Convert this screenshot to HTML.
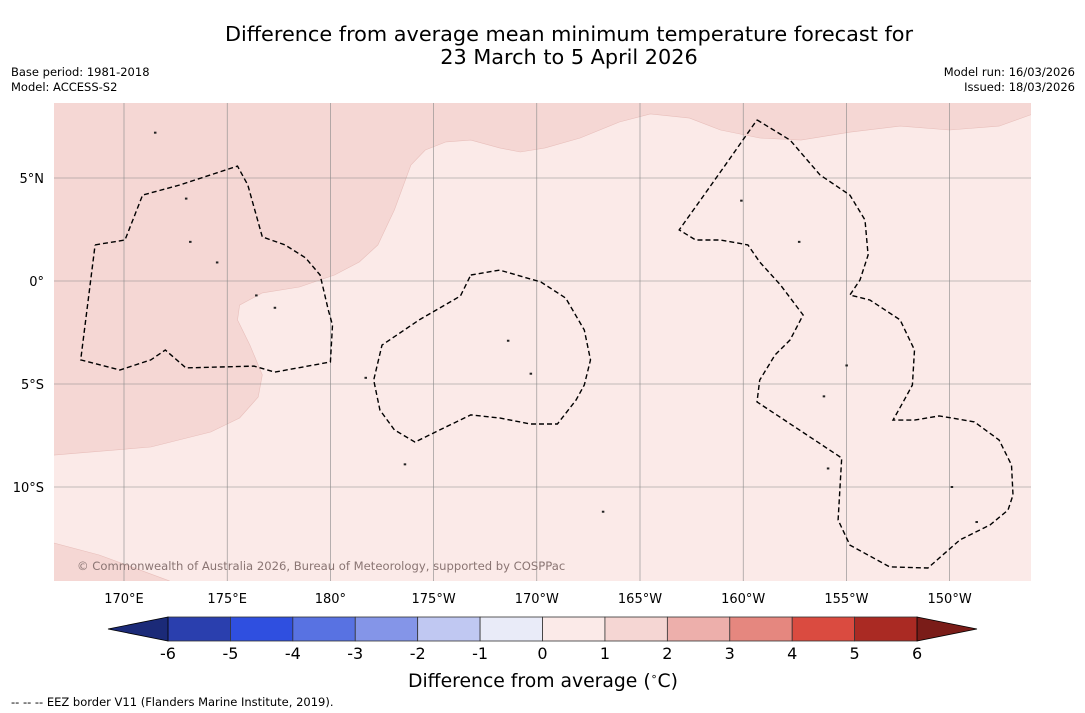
<!DOCTYPE html>
<html><head><meta charset="utf-8"><style>
body{margin:0;background:#fff;width:1085px;height:713px;overflow:hidden;font-family:"DejaVu Sans","Liberation Sans",sans-serif}
svg{position:absolute;left:0;top:0}
</style></head><body>
<svg id="chart" width="1085" height="713">
<text x="569" y="41" font-size="20.8" text-anchor="middle">Difference from average mean minimum temperature forecast for</text>
<text x="569" y="64" font-size="20.8" text-anchor="middle">23 March to 5 April 2026</text>
<text x="11" y="76" font-size="11.5">Base period: 1981-2018</text>
<text x="11" y="91" font-size="11.5">Model: ACCESS-S2</text>
<text x="1075" y="76" font-size="11.5" text-anchor="end">Model run: 16/03/2026</text>
<text x="1075" y="91" font-size="11.5" text-anchor="end">Issued: 18/03/2026</text>
<defs><clipPath id="mapclip"><rect x="54" y="103" width="977" height="478"/></clipPath></defs>
<rect x="54" y="103" width="977" height="478" fill="#fbeae8"/>
<g id="fills" clip-path="url(#mapclip)"></g>
<g id="grid" clip-path="url(#mapclip)"></g>
<g id="eez" clip-path="url(#mapclip)"></g>
<text x="77" y="570" font-size="11.6" fill="#8a7573">© Commonwealth of Australia 2026, Bureau of Meteorology, supported by COSPPac</text>
<g id="axes"></g>
<g id="colorbar"></g>
<text x="543" y="687" font-size="18.8" text-anchor="middle">Difference from average (<tspan font-size="11" dy="-7">∘</tspan><tspan dy="7">C)</tspan></text>
<text x="11" y="706" font-size="11.5">--  --  -- EEZ border V11 (Flanders Marine Institute, 2019).</text>
</svg>
<script>
const lonTicks=[170,175,180,185,190,195,200,205,210];
const lonLabels=["170°E","175°E","180°","175°W","170°W","165°W","160°W","155°W","150°W"];
const latTicks=[5,0,-5,-10];
const latLabels=["5°N","0°","5°S","10°S"];
const cbLevels=[-6,-5,-4,-3,-2,-1,0,1,2,3,4,5,6];
const cbColors=["#2a3fae","#2f4fe0","#5872e2","#8495e8","#c0c8f2","#e9ebf8","#fbeae8","#f5d6d3","#edafab","#e5877f","#da4b40","#aa2a23"];
const cbLow="#1b2a78",cbHigh="#7a1c18";
const warmLon=[166,166.6,171.3,174.2,175.6,176.5,176.7,176.1,175.5,175.6,176.7,178.5,180.2,181.4,182.3,183.1,183.9,184.6,185.6,186.8,188.2,189.2,190.4,192.1,194.0,195.5,197.4,198.9,200.8,202.8,205.2,207.6,210.0,212.4,213.9,214.5,214.5,166];
const warmLat=[-8.45,-8.45,-8.06,-7.33,-6.65,-5.63,-4.56,-3.11,-1.89,-1.17,-0.58,-0.29,0.29,0.92,1.75,3.45,5.63,6.36,6.75,6.84,6.46,6.26,6.46,6.94,7.72,8.11,7.91,7.33,6.94,6.84,7.23,7.52,7.33,7.52,8.06,8.3,9,9];
const warm2Lon=[166,166.6,168.8,172.2,172.5,166];
const warm2Lat=[-12.72,-12.72,-13.3,-14.56,-15,-15];
const eez1Lon=[168.6,170.05,170.9,172.7,175.5,176.0,176.7,177.8,178.8,179.5,179.9,180.1,180.0,177.3,176.3,173.0,172.0,171.3,169.8,167.9,168.6];
const eez1Lat=[1.75,1.99,4.17,4.66,5.58,4.66,2.14,1.75,1.12,0.29,-1.41,-2.14,-3.93,-4.42,-4.13,-4.22,-3.35,-3.83,-4.32,-3.83,1.75];
const eez2Lon=[186.8,188.2,190.2,191.4,192.3,192.6,192.3,191.9,191.0,189.7,188.2,186.8,185.3,184.1,183.1,182.4,182.1,182.5,184.3,186.3,186.8];
const eez2Lat=[0.29,0.53,-0.05,-0.83,-2.38,-3.83,-5.05,-5.78,-6.94,-6.94,-6.65,-6.50,-7.23,-7.82,-7.23,-6.26,-4.81,-3.11,-1.89,-0.73,0.29];
const eez3Lon=[200.67,202.27,203.72,205.17,205.9,206.05,205.66,205.17,206.14,207.6,208.3,208.2,207.8,207.26,208.3,209.5,211.2,212.4,213.0,213.07,212.83,211.96,210.5,208.95,207.1,205.17,204.6,204.77,200.67,200.8,201.54,202.27,202.9,201.8,200.8,200.23,198.9,197.7,196.9,198.1,199.3,200.67];
const eez3Lat=[7.82,6.84,5.15,4.17,2.96,1.26,0.05,-0.68,-0.92,-1.89,-3.35,-5.05,-5.78,-6.75,-6.75,-6.55,-6.84,-7.72,-8.93,-10.39,-11.12,-11.84,-12.57,-13.93,-13.88,-12.82,-11.6,-8.59,-5.87,-4.81,-3.59,-2.86,-1.65,-0.19,0.92,1.75,1.99,1.99,2.48,4.17,5.87,7.82];
const islandLon=[171.5,173.0,173.2,174.5,176.4,177.3,181.7,183.6,188.6,189.7,193.2,199.9,202.7,203.9,204.1,205.0,210.1,211.3];
const islandLat=[7.2,4.0,1.9,0.9,-0.7,-1.3,-4.7,-8.9,-2.9,-4.5,-11.2,3.9,1.9,-5.6,-9.1,-4.1,-10.0,-11.7];

const NS="http://www.w3.org/2000/svg";
const xS=lon=>124+(lon-170)*20.64;
const yS=lat=>281-lat*20.6;
function mk(tag,attrs,parent){const e=document.createElementNS(NS,tag);for(const k in attrs)e.setAttribute(k,attrs[k]);parent.appendChild(e);return e;}
const pts=(lo,la)=>lo.map((v,i)=>xS(v).toFixed(1)+","+yS(la[i]).toFixed(1)).join(" ");
const fills=document.getElementById("fills");
let p=mk("polygon",{points:pts(warmLon,warmLat),fill:"#f5d7d4",stroke:"#e8bfbb","stroke-width":"0.6"},fills);


p=mk("polygon",{points:pts(warm2Lon,warm2Lat),fill:"#f5d7d4",stroke:"#e8bfbb","stroke-width":"0.6"},fills);


const grid=document.getElementById("grid"),axes=document.getElementById("axes");
lonTicks.forEach((lon,i)=>{
  const l=mk("line",{x1:xS(lon),x2:xS(lon),y1:103,y2:581,stroke:"#888","stroke-width":"0.6"},grid);
  
  
  const t=mk("text",{x:xS(lon),y:603,"font-size":"13","text-anchor":"middle"},axes);t.textContent=lonLabels[i];
  
  
});
latTicks.forEach((lat,i)=>{
  const l=mk("line",{x1:54,x2:1031,y1:yS(lat),y2:yS(lat),stroke:"#888","stroke-width":"0.6"},grid);
  
  
  const t=mk("text",{x:44,y:yS(lat)+5,"font-size":"13","text-anchor":"end"},axes);t.textContent=latLabels[i];
  
  
});
const eez=document.getElementById("eez");
[[eez1Lon,eez1Lat],[eez2Lon,eez2Lat],[eez3Lon,eez3Lat]].forEach(([lo,la])=>{
  const e=mk("polyline",{points:pts(lo,la),fill:"none",stroke:"#000","stroke-width":"1.4","stroke-dasharray":"5,3"},eez);
  
  
});
islandLon.forEach((lon,i)=>{
  const d=mk("rect",{x:xS(lon)-1,y:yS(islandLat[i])-1,width:2.5,height:2,fill:"#222"},eez);
  
  
});
const cb=document.getElementById("colorbar");
const cx=v=>168+(v+6)*62.42;
const cy0=617,cy1=641;
cbColors.forEach((c,i)=>{
  const r=mk("rect",{x:cx(cbLevels[i]),y:cy0,width:cx(cbLevels[i+1])-cx(cbLevels[i]),height:cy1-cy0,fill:c,stroke:"#333","stroke-width":"0.8"},cb);
  
  
});
let tr=mk("polygon",{points:`${cx(-6)},${cy0} 108,${(cy0+cy1)/2} ${cx(-6)},${cy1}`,fill:cbLow,stroke:"#000","stroke-width":"0.8"},cb);


tr=mk("polygon",{points:`${cx(6)},${cy0} 977,${(cy0+cy1)/2} ${cx(6)},${cy1}`,fill:cbHigh,stroke:"#000","stroke-width":"0.8"},cb);


cbLevels.forEach(v=>{
  const t=mk("text",{x:cx(v),y:659,"font-size":"16","text-anchor":"middle"},cb);t.textContent=String(v);
  
  
});
</script>
</body></html>
